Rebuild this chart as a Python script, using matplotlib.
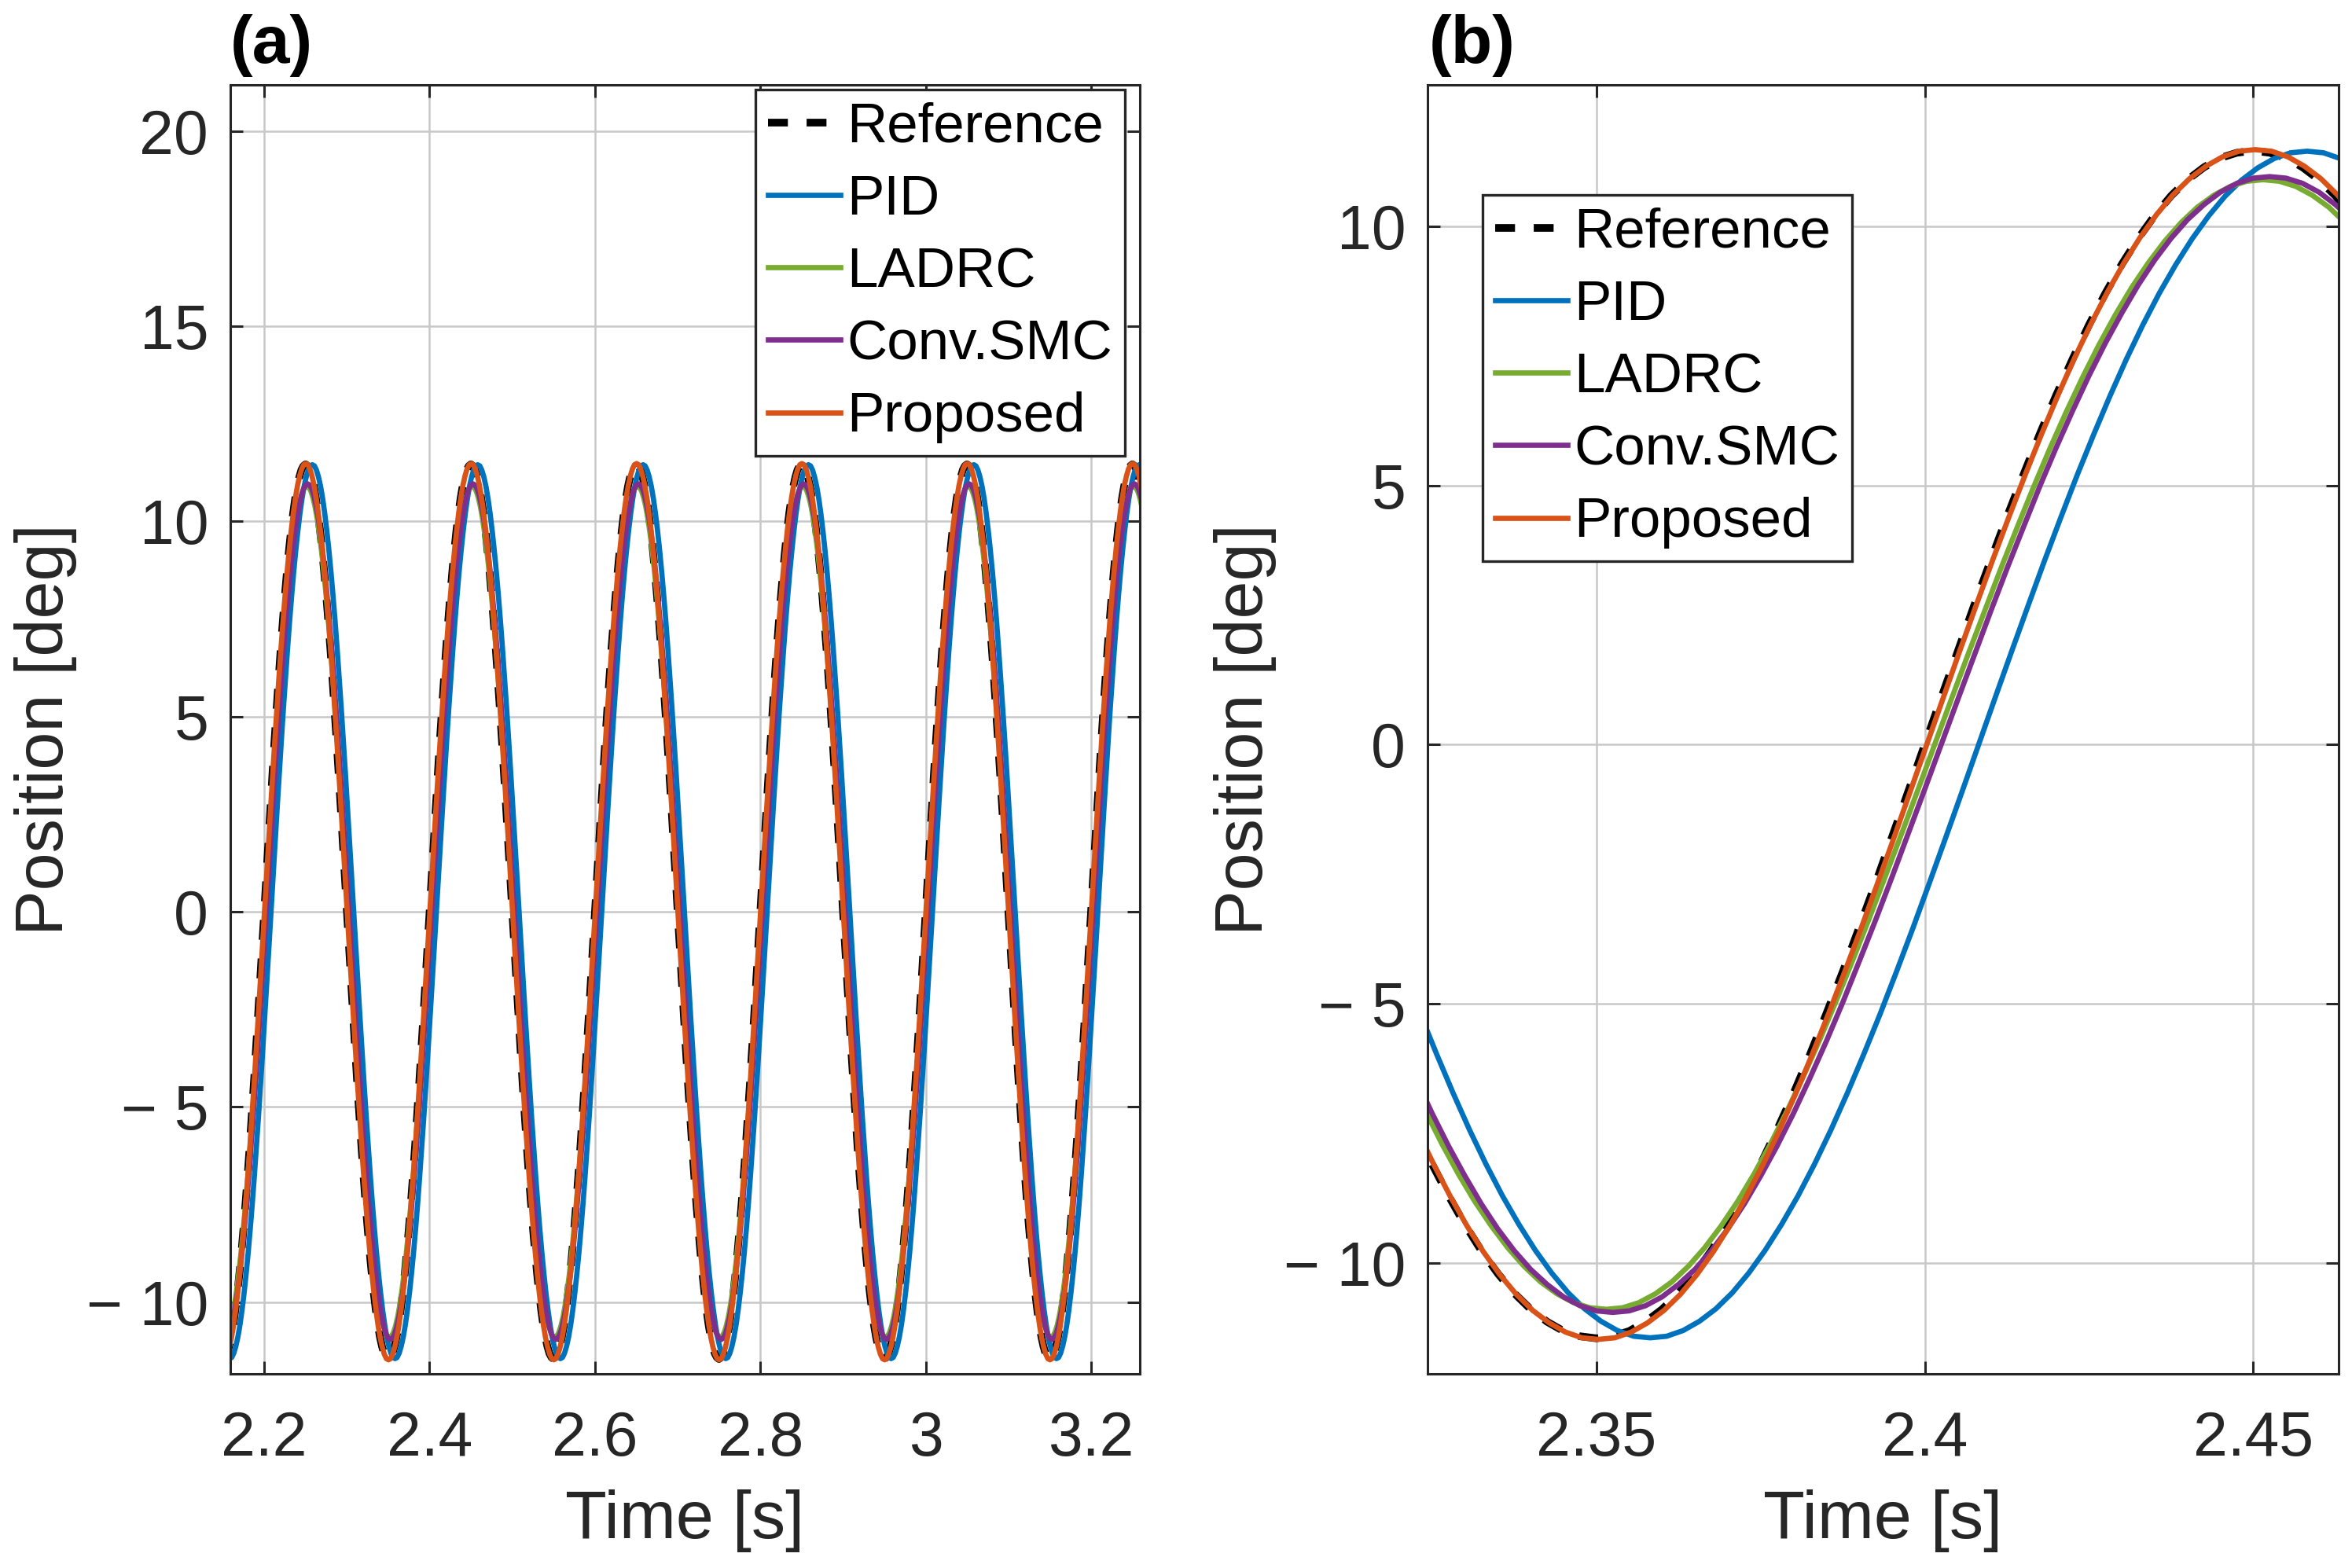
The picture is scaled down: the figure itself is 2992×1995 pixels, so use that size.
import numpy as np
import matplotlib
matplotlib.use('Agg')
import matplotlib.pyplot as plt
from matplotlib.ticker import FixedLocator, FuncFormatter

plt.rcParams['font.family'] = ['Liberation Sans', 'DejaVu Sans']

# ---------------- data ----------------
series_names = ['Reference', 'PID', 'LADRC', 'Conv.SMC', 'Proposed']
series_colors = ['black', '#0072BD', '#77AC30', '#7E2F8E', '#D95319']

sample_step = 0.0025  # s between samples of one recorded cycle (period 0.2 s)

# one cycle of each trace [deg], starting at its rising zero crossing
reference_cycle = [
    0.00, 0.90, 1.79, 2.68, 3.54, 4.39, 5.20, 5.99, 6.74, 7.44,
    8.10, 8.71, 9.27, 9.77, 10.21, 10.59, 10.90, 11.14, 11.32, 11.42,
    11.46, 11.42, 11.32, 11.14, 10.90, 10.59, 10.21, 9.77, 9.27, 8.71,
    8.10, 7.44, 6.74, 5.99, 5.20, 4.39, 3.54, 2.68, 1.79, 0.90,
    0.00, -0.90, -1.79, -2.68, -3.54, -4.39, -5.20, -5.99, -6.74, -7.44,
    -8.10, -8.71, -9.27, -9.77, -10.21, -10.59, -10.90, -11.14, -11.32, -11.42,
    -11.46, -11.42, -11.32, -11.14, -10.90, -10.59, -10.21, -9.77, -9.27, -8.71,
    -8.10, -7.44, -6.74, -5.99, -5.20, -4.39, -3.54, -2.68, -1.79, -0.90]

pid_cycle = [
    0.00, 0.90, 1.79, 2.67, 3.54, 4.38, 5.20, 5.98, 6.73, 7.44,
    8.10, 8.71, 9.26, 9.76, 10.20, 10.58, 10.89, 11.13, 11.31, 11.42,
    11.45, 11.42, 11.31, 11.13, 10.89, 10.58, 10.20, 9.76, 9.26, 8.71,
    8.10, 7.44, 6.73, 5.98, 5.20, 4.38, 3.54, 2.67, 1.79, 0.90,
    0.00, -0.90, -1.79, -2.67, -3.54, -4.38, -5.20, -5.98, -6.73, -7.44,
    -8.10, -8.71, -9.26, -9.76, -10.20, -10.58, -10.89, -11.13, -11.31, -11.42,
    -11.45, -11.42, -11.31, -11.13, -10.89, -10.58, -10.20, -9.76, -9.26, -8.71,
    -8.10, -7.44, -6.73, -5.98, -5.20, -4.38, -3.54, -2.67, -1.79, -0.90]

ladrc_cycle = [
    0.00, 0.86, 1.71, 2.54, 3.37, 4.17, 4.95, 5.70, 6.41, 7.08,
    7.71, 8.29, 8.82, 9.29, 9.71, 10.07, 10.37, 10.60, 10.77, 10.87,
    10.90, 10.87, 10.77, 10.60, 10.37, 10.07, 9.71, 9.29, 8.82, 8.29,
    7.71, 7.08, 6.41, 5.70, 4.95, 4.17, 3.37, 2.54, 1.71, 0.86,
    0.00, -0.86, -1.71, -2.54, -3.37, -4.17, -4.95, -5.70, -6.41, -7.08,
    -7.71, -8.29, -8.82, -9.29, -9.71, -10.07, -10.37, -10.60, -10.77, -10.87,
    -10.90, -10.87, -10.77, -10.60, -10.37, -10.07, -9.71, -9.29, -8.82, -8.29,
    -7.71, -7.08, -6.41, -5.70, -4.95, -4.17, -3.37, -2.54, -1.71, -0.86]

smc_cycle = [
    0.00, 0.86, 1.71, 2.56, 3.39, 4.19, 4.98, 5.73, 6.44, 7.12,
    7.75, 8.33, 8.87, 9.35, 9.77, 10.13, 10.42, 10.66, 10.83, 10.93,
    10.96, 10.93, 10.83, 10.66, 10.42, 10.13, 9.77, 9.35, 8.87, 8.33,
    7.75, 7.12, 6.44, 5.73, 4.98, 4.19, 3.39, 2.56, 1.71, 0.86,
    0.00, -0.86, -1.71, -2.56, -3.39, -4.19, -4.98, -5.73, -6.44, -7.12,
    -7.75, -8.33, -8.87, -9.35, -9.77, -10.13, -10.42, -10.66, -10.83, -10.93,
    -10.96, -10.93, -10.83, -10.66, -10.42, -10.13, -9.77, -9.35, -8.87, -8.33,
    -7.75, -7.12, -6.44, -5.73, -4.98, -4.19, -3.39, -2.56, -1.71, -0.86]

proposed_cycle = [
    0.00, 0.90, 1.80, 2.68, 3.55, 4.39, 5.21, 6.00, 6.75, 7.46,
    8.12, 8.73, 9.29, 9.79, 10.23, 10.61, 10.92, 11.16, 11.34, 11.45,
    11.48, 11.45, 11.34, 11.16, 10.92, 10.61, 10.23, 9.79, 9.29, 8.73,
    8.12, 7.46, 6.75, 6.00, 5.21, 4.39, 3.55, 2.68, 1.80, 0.90,
    0.00, -0.90, -1.80, -2.68, -3.55, -4.39, -5.21, -6.00, -6.75, -7.46,
    -8.12, -8.73, -9.29, -9.79, -10.23, -10.61, -10.92, -11.16, -11.34, -11.45,
    -11.48, -11.45, -11.34, -11.16, -10.92, -10.61, -10.23, -9.79, -9.29, -8.73,
    -8.12, -7.46, -6.75, -6.00, -5.21, -4.39, -3.55, -2.68, -1.80, -0.90]

# time [s] of the rising zero crossing at which each recorded cycle starts
cycle_start = [2.2000, 2.2082, 2.2015, 2.2025, 2.2003]

series_cycles = [reference_cycle, pid_cycle, ladrc_cycle, smc_cycle, proposed_cycle]

# axes settings
xlim_a = (2.159, 3.259)
ylim_a = (-11.84, 21.18)
xticks_a = [2.2, 2.4, 2.6, 2.8, 3.0, 3.2]
yticks_a = [-10, -5, 0, 5, 10, 15, 20]
xlim_b = (2.3243, 2.4630)
ylim_b = (-12.146, 12.73)
xticks_b = [2.35, 2.40, 2.45]
yticks_b = [-10, -5, 0, 5, 10]


def periodic_trace(cycle, t0, t_from, t_to):
    vals = np.asarray(cycle, dtype=float)
    n = len(vals)
    period = n * sample_step
    k0 = int(np.floor((t_from - t0) / period))
    k1 = int(np.ceil((t_to - t0) / period))
    reps = k1 - k0
    t = t0 + k0 * period + np.arange(reps * n + 1) * sample_step
    y = np.append(np.tile(vals, reps), vals[0])
    return t, y


# ---------------- figure ----------------
W, H = 2992, 1995
fig = plt.figure(figsize=(W / 200, H / 200), dpi=200)

dark = '#262626'
tick_fs = 28.3
label_fs = 31.1
legend_fs = 25.5


def fmt_num(v, pos=None):
    s = f'{abs(v):g}'
    return ('\u2212 ' + s) if v < 0 else s


def setup_axes(rect, xlim, ylim, xticks, yticks):
    ax = fig.add_axes(rect)
    ax.set_xlim(*xlim)
    ax.set_ylim(*ylim)
    ax.xaxis.set_major_locator(FixedLocator(xticks))
    ax.yaxis.set_major_locator(FixedLocator(yticks))
    ax.xaxis.set_major_formatter(FuncFormatter(fmt_num))
    ax.yaxis.set_major_formatter(FuncFormatter(fmt_num))
    ax.grid(True, color='#c8c8c8', lw=0.9)
    ax.set_axisbelow(True)
    ax.tick_params(axis='both', which='major', direction='in', length=5.8,
                   width=1.1, colors=dark, labelsize=tick_fs,
                   top=True, right=True)
    ax.tick_params(axis='x', pad=16.5)
    ax.tick_params(axis='y', pad=10)
    for sp in ax.spines.values():
        sp.set_color(dark)
        sp.set_linewidth(1.1)
    ax.set_xlabel('Time [s]', fontsize=label_fs, color=dark)
    ax.set_ylabel('Position [deg]', fontsize=label_fs, color=dark)
    ax.xaxis.label.set_verticalalignment('center')
    ax.yaxis.label.set_verticalalignment('center')
    return ax


def draw_series(ax, t_from, t_to):
    handles = []
    for name, color, cyc, t0 in zip(series_names, series_colors,
                                    series_cycles, cycle_start):
        t, y = periodic_trace(cyc, t0, t_from, t_to)
        if name == 'Reference':
            h, = ax.plot(t, y, color=color, lw=3.5, dashes=(2.6, 2.45),
                         label=name)
        else:
            h, = ax.plot(t, y, color=color, lw=2.4, label=name)
        handles.append(h)
    return handles


# panel (a)
rect_a = [293 / W, 1 - 1748 / H, (1450 - 293) / W, (1748 - 108) / H]
ax_a = setup_axes(rect_a, xlim_a, ylim_a, xticks_a, yticks_a)
h_a = draw_series(ax_a, xlim_a[0], xlim_a[1])
ax_a.xaxis.set_label_coords(0.5, -0.114)
ax_a.yaxis.set_label_coords(-0.203, 0.5)

# panel (b)
rect_b = [1816 / W, 1 - 1748 / H, (2975 - 1816) / W, (1748 - 108) / H]
ax_b = setup_axes(rect_b, xlim_b, ylim_b, xticks_b, yticks_b)
h_b = draw_series(ax_b, xlim_b[0], xlim_b[1])
ax_b.xaxis.set_label_coords(0.5, -0.114)
ax_b.yaxis.set_label_coords(-0.200, 0.5)

leg_kw = dict(fontsize=legend_fs, frameon=True, fancybox=False, framealpha=1,
              edgecolor=dark, borderpad=0.22, labelspacing=0.37,
              handlelength=1.3, handletextpad=0.12, borderaxespad=0,
              bbox_transform=fig.transFigure)
leg_a = ax_a.legend(handles=h_a, loc='upper right',
                    bbox_to_anchor=(1431 / W, 1 - 114 / H), **leg_kw)
leg_b = ax_b.legend(handles=h_b, loc='upper left',
                    bbox_to_anchor=(1886 / W, 1 - 248 / H), **leg_kw)
for leg in (leg_a, leg_b):
    leg.get_frame().set_linewidth(1.2)

fig.text(293 / W, 1 - 80 / H, '(a)', fontsize=31, fontweight='bold',
         va='baseline', ha='left', color='black')
fig.text(1818 / W, 1 - 80 / H, '(b)', fontsize=31, fontweight='bold',
         va='baseline', ha='left', color='black')

fig.savefig('out.png', dpi=200, facecolor='white')
